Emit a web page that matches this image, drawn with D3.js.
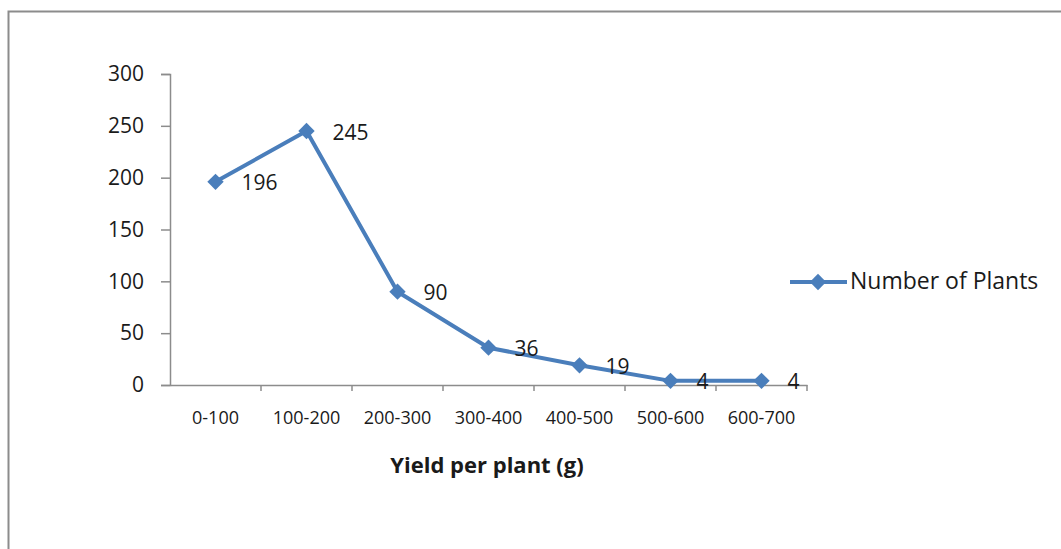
<!DOCTYPE html>
<meta charset="utf-8">
<style>
    body { margin: 0; background: #fff; }
    text { font-family: "Open Sans", "Liberation Sans", sans-serif; fill: #1a1a1a; }
</style>
<body>
<script src="https://cdn.jsdelivr.net/npm/d3@7"></script>
<script>
    // data
    const categories = ["0-100", "100-200", "200-300", "300-400", "400-500", "500-600", "600-700"];
    const plants = [196, 245, 90, 36, 19, 4, 4];
    const yTicks = [0, 50, 100, 150, 200, 250, 300];
    const seriesName = "Number of Plants";

    const W = 1061, H = 549;
    const plot = {left: 170, right: 807, top: 74, bottom: 385};
    const blue = "#4a7ebb";

    const svg = d3.select("body").append("svg")
        .attr("width", W)
        .attr("height", H);

    // outer frame (only top and left show in the crop)
    svg.append("path")
        .attr("d", "M8.5," + H + "V11.5H" + W)
        .attr("fill", "none")
        .attr("stroke", "#8c8c8c")
        .attr("stroke-width", 2);

    let x = d3.scaleBand().domain(categories).range([plot.left, plot.right]);
    let y = d3.scaleLinear().domain([0, 300]).range([plot.bottom, plot.top]);

    // y axis
    const yAxis = svg.append("g")
        .attr("transform", "translate(" + plot.left + ",0)")
        .call(d3.axisLeft(y).tickValues(yTicks).tickSize(9).tickPadding(17));
    yAxis.select(".domain").attr("stroke", "#8c8c8c").attr("stroke-width", 1.5);
    yAxis.selectAll(".tick line").attr("stroke", "#8c8c8c").attr("stroke-width", 1.5);
    yAxis.selectAll("text").style("font-size", "21px").attr("fill", "#1a1a1a");

    // x axis with ticks between categories
    const xAxis = svg.append("g")
        .attr("transform", "translate(0," + plot.bottom + ")")
        .call(d3.axisBottom(x).tickSize(0).tickPadding(26));
    xAxis.select(".domain").attr("stroke", "#8c8c8c").attr("stroke-width", 1.5);
    xAxis.selectAll("text").style("font-size", "18px").attr("fill", "#1a1a1a");
    svg.append("g").selectAll("line")
        .data(categories)
        .join("line")
        .attr("x1", d => x(d) + x.bandwidth())
        .attr("x2", d => x(d) + x.bandwidth())
        .attr("y1", plot.bottom)
        .attr("y2", plot.bottom + 6)
        .attr("stroke", "#8c8c8c")
        .attr("stroke-width", 1.5);

    // axis title
    svg.append("text")
        .attr("x", 487)
        .attr("y", 473)
        .attr("text-anchor", "middle")
        .style("font-size", "22px")
        .style("font-weight", "bold")
        .text("Yield per plant (g)");

    const cx = (d, i) => x(categories[i]) + x.bandwidth() / 2;
    const diamond = d3.symbol().type(d3.symbolDiamond2).size(170);

    // the line
    svg.append("path")
        .datum(plants)
        .attr("fill", "none")
        .attr("stroke", blue)
        .attr("stroke-width", 4)
        .attr("stroke-linejoin", "round")
        .attr("d", d3.line().x(cx).y(d => y(d)));

    svg.append("g").selectAll("path")
        .data(plants)
        .join("path")
        .attr("transform", (d, i) => "translate(" + cx(d, i) + "," + y(d) + ")")
        .attr("d", diamond)
        .attr("fill", blue);

    // value labels
    svg.append("g").selectAll("text")
        .data(plants)
        .join("text")
        .attr("x", (d, i) => cx(d, i) + 26)
        .attr("y", d => y(d) + 3)
        .attr("dominant-baseline", "middle")
        .style("font-size", "21px")
        .text(d => d);

    // legend
    const lg = svg.append("g").attr("transform", "translate(790,282)");
    lg.append("line")
        .attr("x1", 0).attr("x2", 57)
        .attr("stroke", blue).attr("stroke-width", 4);
    lg.append("path")
        .attr("transform", "translate(28,0)")
        .attr("d", diamond)
        .attr("fill", blue);
    lg.append("text")
        .attr("x", 60)
        .attr("y", 1)
        .attr("dominant-baseline", "middle")
        .style("font-size", "23px")
        .text(seriesName);
</script>
</body>
